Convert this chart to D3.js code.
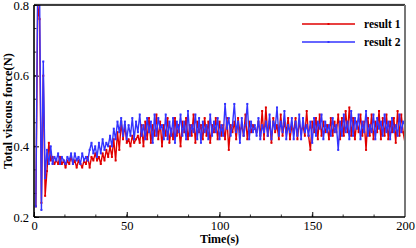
<!DOCTYPE html>
<html lang="en">
<meta charset="utf-8">
<script src="https://d3js.org/d3.v7.min.js"></script>
<style>
  body { margin: 0; background: #fff; }
  text { font-family: "Liberation Serif", "DejaVu Serif", serif; }
</style>
<div id="chart"></div>
<script>
// series values, one per second (t = 1..200)
var result1 = [
  0.23, 0.80, 0.76, 0.24, 0.60, 0.26, 0.33, 0.41, 0.36, 0.37,
  0.35, 0.36, 0.35, 0.37, 0.35, 0.36, 0.34, 0.36, 0.35, 0.37,
  0.35, 0.36, 0.34, 0.36, 0.35, 0.34, 0.36, 0.35, 0.37, 0.34,
  0.37, 0.36, 0.38, 0.36, 0.37, 0.35, 0.38, 0.36, 0.39, 0.37,
  0.40, 0.37, 0.42, 0.36, 0.44, 0.39, 0.47, 0.42, 0.46, 0.41,
  0.42, 0.40, 0.43, 0.41, 0.42, 0.43, 0.41, 0.46, 0.40, 0.47,
  0.42, 0.48, 0.41, 0.46, 0.43, 0.49, 0.42, 0.47, 0.40, 0.46,
  0.43, 0.48, 0.41, 0.45, 0.42, 0.48, 0.43, 0.46, 0.40, 0.47,
  0.44, 0.48, 0.42, 0.46, 0.43, 0.49, 0.41, 0.47, 0.44, 0.46,
  0.42, 0.48, 0.43, 0.47, 0.41, 0.46, 0.44, 0.48, 0.42, 0.47,
  0.43, 0.46, 0.42, 0.48, 0.39, 0.46, 0.44, 0.47, 0.42, 0.48,
  0.44, 0.46, 0.43, 0.49, 0.42, 0.47, 0.44, 0.46, 0.45, 0.44,
  0.47, 0.43, 0.50, 0.42, 0.51, 0.43, 0.47, 0.41, 0.48, 0.44,
  0.46, 0.42, 0.49, 0.43, 0.47, 0.44, 0.48, 0.42, 0.46, 0.44,
  0.48, 0.42, 0.47, 0.44, 0.46, 0.43, 0.50, 0.43, 0.39, 0.47,
  0.44, 0.48, 0.42, 0.49, 0.43, 0.47, 0.44, 0.46, 0.42, 0.48,
  0.43, 0.47, 0.44, 0.49, 0.42, 0.48, 0.43, 0.50, 0.44, 0.51,
  0.43, 0.48, 0.42, 0.47, 0.44, 0.49, 0.43, 0.47, 0.39, 0.48,
  0.43, 0.49, 0.42, 0.47, 0.44, 0.50, 0.42, 0.48, 0.43, 0.49,
  0.42, 0.47, 0.44, 0.48, 0.41, 0.50, 0.43, 0.49, 0.44, 0.41
];
var result2 = [
  0.23, 0.86, 0.84, 0.22, 0.64, 0.31, 0.39, 0.35, 0.40, 0.35,
  0.37, 0.36, 0.38, 0.35, 0.37, 0.36, 0.35, 0.37, 0.36, 0.38,
  0.35, 0.38, 0.36, 0.37, 0.35, 0.38, 0.36, 0.37, 0.36, 0.39,
  0.41, 0.38, 0.40, 0.37, 0.41, 0.38, 0.42, 0.39, 0.41, 0.40,
  0.43, 0.40, 0.45, 0.42, 0.47, 0.44, 0.48, 0.43, 0.47, 0.42,
  0.46, 0.43, 0.48, 0.42, 0.47, 0.44, 0.49, 0.43, 0.46, 0.42,
  0.48, 0.44, 0.47, 0.41, 0.49, 0.43, 0.48, 0.45, 0.46, 0.42,
  0.49, 0.42, 0.47, 0.43, 0.48, 0.41, 0.47, 0.44, 0.49, 0.43,
  0.47, 0.42, 0.50, 0.43, 0.46, 0.44, 0.49, 0.42, 0.48, 0.41,
  0.47, 0.44, 0.46, 0.42, 0.49, 0.43, 0.47, 0.44, 0.48, 0.42,
  0.46, 0.43, 0.52, 0.45, 0.48, 0.43, 0.46, 0.52, 0.44, 0.47,
  0.41, 0.48, 0.43, 0.46, 0.52, 0.42, 0.47, 0.44, 0.46, 0.43,
  0.48, 0.42, 0.46, 0.44, 0.47, 0.43, 0.49, 0.42, 0.47, 0.45,
  0.51, 0.43, 0.47, 0.44, 0.50, 0.42, 0.46, 0.44, 0.48, 0.42,
  0.47, 0.43, 0.49, 0.42, 0.48, 0.44, 0.46, 0.43, 0.47, 0.41,
  0.48, 0.43, 0.47, 0.45, 0.49, 0.42, 0.47, 0.44, 0.46, 0.43,
  0.48, 0.44, 0.46, 0.39, 0.47, 0.43, 0.49, 0.44, 0.47, 0.42,
  0.50, 0.43, 0.48, 0.45, 0.49, 0.42, 0.47, 0.44, 0.50, 0.43,
  0.46, 0.44, 0.49, 0.42, 0.48, 0.45, 0.47, 0.43, 0.49, 0.44,
  0.47, 0.42, 0.48, 0.44, 0.46, 0.43, 0.49, 0.44, 0.47, 0.46
];
var time = result1.map(function(d, i) { return i + 1; });
var xTicks = [0, 50, 100, 150, 200];
var yTicks = [0.2, 0.4, 0.6, 0.8];
var seriesNames = ["result 1", "result 2"];
var seriesColors = ["#e00000", "#3333ff"];

var W = 416, H = 248;
var margin = {top: 5, right: 11, bottom: 31, left: 34};
var width = W - margin.left - margin.right,
    height = H - margin.top - margin.bottom;

var svg = d3.select("#chart").append("svg")
    .attr("width", W).attr("height", H);
var g = svg.append("g")
    .attr("transform", "translate(" + margin.left + "," + margin.top + ")");

var x = d3.scaleLinear().domain([0, 200]).range([0, width]);
var y = d3.scaleLinear().domain([0.2, 0.8]).range([height, 0]);

g.append("clipPath").attr("id", "clip")
  .append("rect").attr("width", width).attr("height", height);

// minor ticks
var xMinor = d3.range(0, 200.01, 50 / 3);
var yMinor = d3.range(0.2, 0.8001, 0.2 / 3);
g.selectAll(".xmin").data(xMinor).enter().append("line")
  .attr("x1", function(d) { return x(d); }).attr("x2", function(d) { return x(d); })
  .attr("y1", height).attr("y2", height - 2.5)
  .attr("stroke", "#000").attr("stroke-width", 0.8);
g.selectAll(".ymin").data(yMinor).enter().append("line")
  .attr("y1", function(d) { return y(d); }).attr("y2", function(d) { return y(d); })
  .attr("x1", 0).attr("x2", 2.5)
  .attr("stroke", "#000").attr("stroke-width", 0.8);

// axes
var xAxis = g.append("g").attr("transform", "translate(0," + height + ")")
  .call(d3.axisBottom(x).tickValues(xTicks).tickSizeInner(-5).tickSizeOuter(0).tickPadding(4));
var yAxis = g.append("g")
  .call(d3.axisLeft(y).tickValues(yTicks).tickFormat(d3.format(".1f")).tickSizeInner(-5).tickSizeOuter(0).tickPadding(5));
[xAxis, yAxis].forEach(function(a) {
  a.select(".domain").remove();
  a.selectAll("text").style("font-size", "12.5px").style("font-family", "Liberation Serif, serif").attr("fill", "#000");
  a.selectAll(".tick line").attr("stroke-width", 1);
});

// lines
var line = d3.line()
  .x(function(d, i) { return x(time[i]); })
  .y(function(d) { return y(d); });

var plot = g.append("g").attr("clip-path", "url(#clip)");
[result1, result2].forEach(function(s, k) {
  plot.append("path").datum(s)
    .attr("fill", "none").attr("stroke", seriesColors[k])
    .attr("stroke-width", 1.4).attr("stroke-linejoin", "round")
    .attr("d", line);
  plot.selectAll(".m" + k).data(s).enter().append("rect")
    .attr("x", function(d, i) { return x(time[i]) - 1; })
    .attr("y", function(d) { return y(d) - 1; })
    .attr("width", 2).attr("height", 2)
    .attr("fill", seriesColors[k]);
});

// frame
g.append("line").attr("x1", 0).attr("x2", width).attr("y1", -1).attr("y2", -1)
  .attr("stroke", "#ccc").attr("stroke-width", 1);
g.append("line").attr("x1", 0).attr("x2", width).attr("y1", 0).attr("y2", 0)
  .attr("stroke", "#000").attr("stroke-width", 1.6);
g.append("line").attr("x1", width).attr("x2", width).attr("y1", 0).attr("y2", height)
  .attr("stroke", "#777").attr("stroke-width", 2);
g.append("line").attr("x1", 0).attr("x2", width).attr("y1", height).attr("y2", height)
  .attr("stroke", "#000").attr("stroke-width", 1.6);
g.append("line").attr("x1", 0).attr("x2", 0).attr("y1", 0).attr("y2", height)
  .attr("stroke", "#000").attr("stroke-width", 1.6);

// legend
var legend = svg.append("g").attr("transform", "translate(302,24)");
seriesNames.forEach(function(name, k) {
  var lg = legend.append("g").attr("transform", "translate(0," + (k * 18) + ")");
  lg.append("line").attr("x1", 0).attr("x2", 53).attr("y1", 0).attr("y2", 0)
    .attr("stroke", seriesColors[k]).attr("stroke-width", 1.4);
  lg.append("rect").attr("x", 25.5).attr("y", -1).attr("width", 2).attr("height", 2)
    .attr("fill", seriesColors[k]);
  lg.append("text").attr("x", 62).attr("y", 4)
    .style("font-size", "11.5px").style("font-weight", "bold").text(name);
});

// axis titles
svg.append("text")
  .attr("x", margin.left + width / 2).attr("y", 243)
  .attr("text-anchor", "middle")
  .style("font-size", "12px").style("font-weight", "bold")
  .text("Time(s)");
svg.append("text")
  .attr("transform", "translate(12," + (margin.top + height / 2) + ") rotate(-90)")
  .attr("text-anchor", "middle")
  .style("font-size", "12.5px").style("font-weight", "bold")
  .text("Total viscous force(N)");
</script>
</html>
